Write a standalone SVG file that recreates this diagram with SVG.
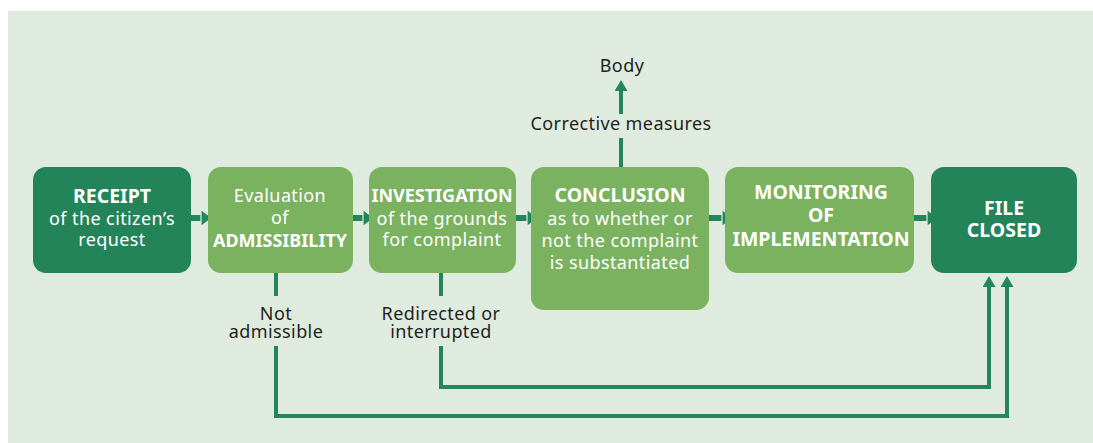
<svg xmlns="http://www.w3.org/2000/svg" width="1093" height="443" viewBox="0 0 1093 443">
<style>
.dark{fill:#23845a}
.light{fill:#7ab25f}
.t{font-family:"Noto Sans","Liberation Sans",sans-serif;font-size:18px;letter-spacing:0.4px;fill:#ffffff;text-anchor:middle}
.b{font-weight:bold;font-size:19.5px;letter-spacing:0}
.s{font-size:18px}
.lbl{font-family:"Noto Sans","Liberation Sans",sans-serif;font-size:18px;letter-spacing:0.4px;fill:#231f20;text-anchor:middle}
.c{fill:none;stroke:#23855a;stroke-width:4}
.h{stroke-width:6}
.hd{fill:#23855a;stroke:#e0ebdf;stroke-width:1.2;stroke-linejoin:miter}
</style>
<defs>
<marker id="au" markerUnits="userSpaceOnUse" markerWidth="13" markerHeight="14" viewBox="0 0 13 14" refX="4" refY="6.5" orient="auto">
<path d="M0,0 L11,6.5 L0,13 Z" fill="#23855a"/>
</marker>
</defs>
<rect x="0" y="0" width="1093" height="443" fill="#ffffff"/>
<rect x="8" y="11" width="1085" height="432" fill="#e0ebdf"/>

<g id="connectors">
<line class="c h" x1="190" y1="218" x2="202" y2="218"/>
<polygon class="hd" points="201,209.5 212,218 201,226.5"/>
<line class="c h" x1="352" y1="218" x2="364" y2="218"/>
<polygon class="hd" points="363,209.5 374,218 363,226.5"/>
<line class="c h" x1="515" y1="218" x2="528" y2="218"/>
<polygon class="hd" points="527,209.5 538,218 527,226.5"/>
<line class="c h" x1="708" y1="218" x2="723" y2="218"/>
<polygon class="hd" points="722,209.5 733,218 722,226.5"/>
<line class="c h" x1="913" y1="218" x2="928" y2="218"/>
<polygon class="hd" points="927,209.5 938,218 927,226.5"/>
<line class="c" x1="621" y1="167" x2="621" y2="138"/>
<line class="c" x1="621" y1="114" x2="621" y2="87" marker-end="url(#au)"/>
<line class="c" x1="276" y1="273" x2="276" y2="296"/>
<polyline class="c" points="276,346 276,416 1007,416 1007,283" marker-end="url(#au)"/>
<line class="c" x1="441" y1="273" x2="441" y2="296"/>
<polyline class="c" points="441,346 441,387 989,387 989,283" marker-end="url(#au)"/>
</g>

<g id="receipt">
<rect class="dark" x="33" y="167" width="158" height="106" rx="13"/>
<text class="t b" x="112" y="203">RECEIPT</text>
<text class="t" x="112" y="225">of the citizen’s</text>
<text class="t" x="112" y="246">request</text>
</g>
<g id="evaluation">
<rect class="light" x="208" y="167" width="145" height="106" rx="13"/>
<text class="t" x="280" y="202">Evaluation</text>
<text class="t" x="280" y="224">of</text>
<text class="t b s" x="280" y="247">ADMISSIBILITY</text>
</g>
<g id="investigation">
<rect class="light" x="369" y="167" width="147" height="106" rx="13"/>
<text class="t b s" x="442" y="202">INVESTIGATION</text>
<text class="t" x="442" y="225">of the grounds</text>
<text class="t" x="442" y="246">for complaint</text>
</g>
<g id="conclusion">
<rect class="light" x="531" y="167" width="178" height="143" rx="13"/>
<text class="t b" x="620" y="202">CONCLUSION</text>
<text class="t" x="620" y="225">as to whether or</text>
<text class="t" x="620" y="247">not the complaint</text>
<text class="t" x="620" y="269">is substantiated</text>
</g>
<g id="monitoring">
<rect class="light" x="725" y="167" width="189" height="106" rx="13"/>
<text class="t b" x="821" y="199">MONITORING</text>
<text class="t b" x="821" y="222">OF</text>
<text class="t b" x="821" y="246">IMPLEMENTATION</text>
</g>
<g id="file-closed">
<rect class="dark" x="931" y="167" width="146" height="106" rx="13"/>
<text class="t b" x="1004" y="215">FILE</text>
<text class="t b" x="1004" y="237">CLOSED</text>
</g>
<g id="labels">
<text class="lbl" x="622" y="72">Body</text>
<text class="lbl" x="621" y="130">Corrective measures</text>
<text class="lbl" x="276" y="320">Not</text>
<text class="lbl" x="276" y="338">admissible</text>
<text class="lbl" x="441" y="320">Redirected or</text>
<text class="lbl" x="441" y="338">interrupted</text>
</g>
</svg>
